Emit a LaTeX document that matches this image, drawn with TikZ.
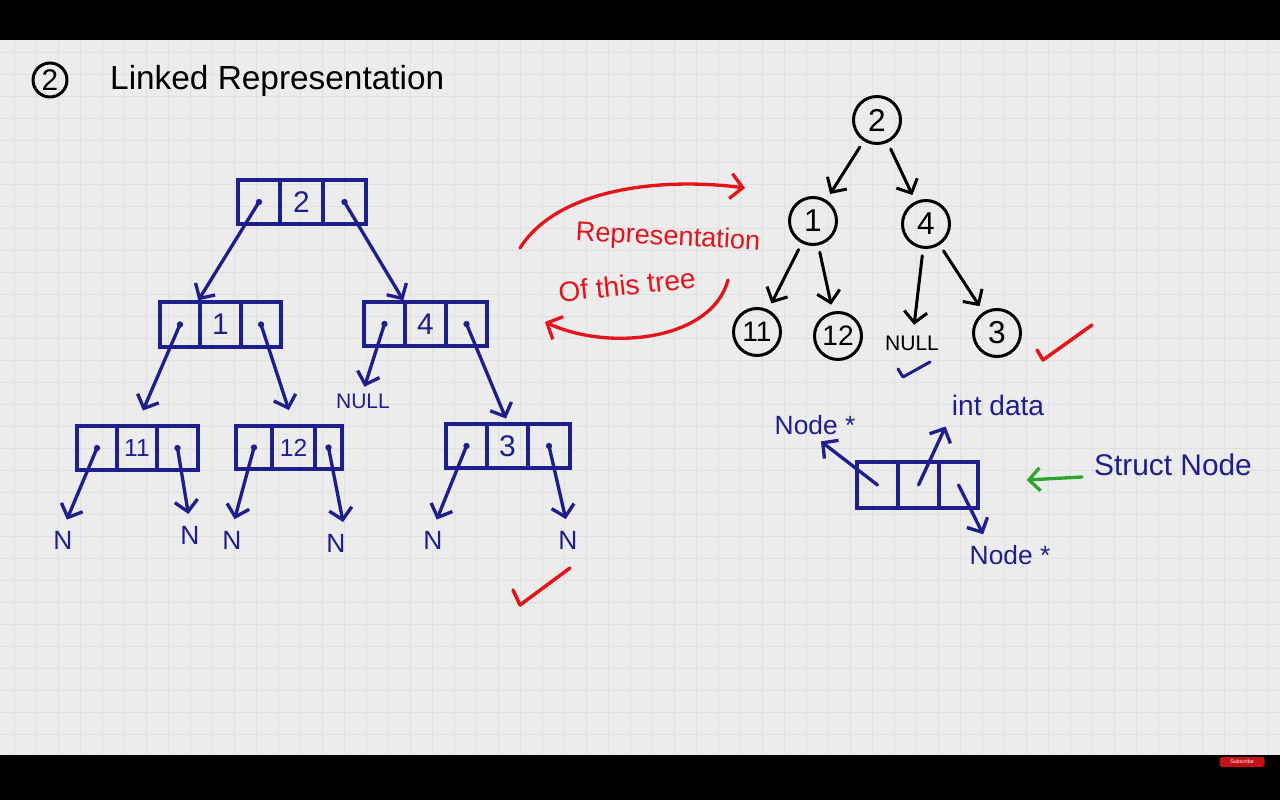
\documentclass[tikz,border=0pt]{standalone}
\usepackage{fontspec}
\setmainfont{Liberation Sans}
\usetikzlibrary{arrows.meta}
\definecolor{tblue}{HTML}{1E1E8C}
\definecolor{tred}{HTML}{E4141B}
\definecolor{tgreen}{HTML}{2DA52D}
\definecolor{bgc}{HTML}{ECECEC}
\definecolor{gridc}{HTML}{E0E0E0}
\tikzset{
  cell/.style={draw=tblue, line width=1.9pt, inner sep=0pt, text=tblue,
    font=\fontsize{17}{17}\selectfont},
  barrow/.style={draw=tblue, line width=1.9pt, line cap=round, line join=round,
    -{Straight Barb[length=2.2mm,width=4.6mm]}},
  karrow/.style={draw=black, line width=1.7pt, line cap=round, line join=round,
    -{Straight Barb[length=2.2mm,width=4.6mm]}},
  rarrow/.style={draw=tred, line width=1.9pt, line cap=round, line join=round,
    -{Straight Barb[length=2.4mm,width=5mm]}},
  garrow/.style={draw=tgreen, line width=1.9pt, line cap=round, line join=round,
    -{Straight Barb[length=2.2mm,width=4.6mm]}},
  circ/.style={draw=black, circle, line width=1.7pt, inner sep=0pt,
    minimum size=0.94cm, font=\fontsize{18}{18}\selectfont},
  nlab/.style={text=tblue, inner sep=1pt, font=\fontsize{15}{15}\selectfont},
  blab/.style={text=tblue, inner sep=1pt, font=\fontsize{15}{15}\selectfont},
  rlab/.style={text=tred, inner sep=1pt, font=\fontsize{15}{15}\selectfont},
  check/.style={line width=2pt, line cap=round, line join=round},
  small/.style={font=\fontsize{14}{14}\selectfont},
}
% name, xleft, xsplit1, xsplit2, xright, ytop, ybottom, label
\newcommand\tribox[8]{%
  \node[cell, minimum width={(#3-#2)*0.02cm}, minimum height={(#7-#6)*0.02cm}]
    (#1l) at ({(#2+#3)/2},{(#6+#7)/2}) {};
  \node[cell, minimum width={(#4-#3)*0.02cm}, minimum height={(#7-#6)*0.02cm}]
    (#1m) at ({(#3+#4)/2},{(#6+#7)/2}) {#8};
  \node[cell, minimum width={(#5-#4)*0.02cm}, minimum height={(#7-#6)*0.02cm}]
    (#1r) at ({(#4+#5)/2},{(#6+#7)/2}) {};
}
\newcommand\ptrdots[1]{%
  \fill[tblue] (#1l.center) circle (1.8pt);
  \fill[tblue] (#1r.center) circle (1.8pt);
}
\begin{document}
\begin{tikzpicture}[x=0.02cm,y=-0.02cm]
\useasboundingbox (0,0) rectangle (1280,800);
% background and grid
\fill[bgc] (0,40) rectangle (1280,755);
\foreach \gx in {14,36,...,1280} \draw[gridc, line width=0.5pt] (\gx,40) -- (\gx,755);
\foreach \gy in {52,74,...,755} \draw[gridc, line width=0.5pt] (0,\gy) -- (1280,\gy);
\fill[black] (0,0) rectangle (1280,40);
\fill[black] (0,755) rectangle (1280,800);
% subscribe button
\node[fill=tred!85!black, rounded corners=1pt, inner sep=1pt, text=white,
  font=\fontsize{3}{3}\selectfont, minimum width=0.9cm, minimum height=0.2cm]
  (sub) at (1242,762) {Subscribe};

% title
\node[circ, minimum size=0.68cm, font=\fontsize{17}{17}\selectfont] (tnum) at (50,80) {2};
\node[anchor=west, font=\fontsize{19}{22}\selectfont] (title) at (104,81) {Linked Representation};

% left linked tree
\tribox{rt}{238}{280}{323}{366}{180}{224}{2}
\tribox{na}{160}{200}{241}{281}{302}{347}{1}
\tribox{nb}{364}{405}{446}{487}{302}{346}{4}
\tribox{nc}{77}{117}{157}{198}{426}{470}{\fontsize{14}{14}\selectfont 11}
\tribox{nd}{236}{272}{315}{342}{426}{469}{\fontsize{14}{14}\selectfont 12}
\tribox{ne}{446}{487}{528}{570}{424}{468}{3}
\ptrdots{rt}\ptrdots{na}\ptrdots{nb}\ptrdots{nc}\ptrdots{nd}\ptrdots{ne}

\node[nlab, font=\fontsize{12}{12}\selectfont] (nullb) at (363,401) {NULL};
\node[nlab] (kcl) at (63,540) {N};
\node[nlab] (kcr) at (190,535) {N};
\node[nlab] (kdl) at (232,540) {N};
\node[nlab] (kdr) at (336,543) {N};
\node[nlab] (kel) at (433,540) {N};
\node[nlab] (ker) at (568,540) {N};

\draw[barrow] (rtl.center) -- (nam.north west);
\draw[barrow] (rtr.center) -- (nbm.north west);
\draw[barrow, shorten >=0.3cm] (nal.center) -- (ncm.north);
\draw[barrow, shorten >=0.3cm] (nar.center) -- (ndm.north);
\draw[barrow, shorten >=0.1cm] (nbl.center) -- (nullb.north);
\draw[barrow, shorten >=0.08cm] (nbr.center) -- (nem.north);
\draw[barrow, shorten >=0.2cm] (ncl.center) -- (kcl.north);
\draw[barrow, shorten >=0.2cm] (ncr.center) -- (kcr.north);
\draw[barrow, shorten >=0.2cm] (ndl.center) -- (kdl.north);
\draw[barrow, shorten >=0.2cm] (ndr.center) -- ([xshift=0.18cm]kdr.north);
\draw[barrow, shorten >=0.2cm] (nel.center) -- (kel.north);
\draw[barrow, shorten >=0.2cm] (ner.center) -- (ker.north);

% red check left
\draw[tred, check] (513,590) -- (520,605) -- (570,568);

% red annotation
\node[rlab, rotate=-3, font=\fontsize{15.5}{16}\selectfont] (rep1) at (668,238) {Representation};
\node[rlab, rotate=6, font=\fontsize{16}{16}\selectfont] (rep2) at (627,285) {Of this tree};
\coordinate (ua) at (520,248);
\coordinate (ub) at (745,188);
\coordinate (la) at (728,280);
\coordinate (lb) at (545,322);
\draw[rarrow] (ua) .. controls (560,185) and (670,178) .. (ub);
\draw[rarrow] (la) .. controls (712,340) and (610,352) .. (lb);

% right tree
\node[circ] (c2) at (877,120) {2};
\node[circ] (c1) at (813,221) {1};
\node[circ] (c4) at (926,224) {4};
\node[circ, font=\fontsize{16}{16}\selectfont] (c11) at (757,332) {11};
\node[circ, font=\fontsize{16}{16}\selectfont] (c12) at (838,336) {12};
\node[circ] (c3) at (997,333) {3};
\node[inner sep=1pt, font=\fontsize{12}{12}\selectfont] (nullr) at (912,343) {NULL};
\draw[karrow, shorten <=4pt, shorten >=4pt] (c2) -- (c1);
\draw[karrow, shorten <=4pt, shorten >=4pt] (c2) -- (c4);
\draw[karrow, shorten <=4pt, shorten >=4pt] (c1) -- (c11);
\draw[karrow, shorten <=4pt, shorten >=4pt] (c1) -- (c12);
\draw[karrow, shorten <=4pt, shorten >=5pt] (c4) -- (nullr);
\draw[karrow, shorten <=4pt, shorten >=4pt] (c4) -- (c3);
\draw[tblue, check, line width=1.7pt] (898,369) -- (903,377) -- (930,362);
\draw[tred, check] (1037,350) -- (1043,360) -- (1092,325);

% struct node
\tribox{sn}{857}{898}{939}{978}{462}{508}{}
\node[blab] (lbla) at (815,425) {Node *};
\node[blab, font=\fontsize{16}{16}\selectfont] (lblb) at (998,405) {int data};
\node[blab] (lblc) at (1010,555) {Node *};
\node[blab, font=\fontsize{17}{17}\selectfont] (lbls) at (1173,465) {Struct Node};
\draw[barrow, shorten >=0.15cm] (snl.center) -- (lbla.south);
\draw[barrow, shorten >=0.2cm] (snm.center) -- (lblb.south west);
\draw[barrow, shorten >=0.2cm] (snr.center) -- ([xshift=0.4cm]lblc.north west);
\draw[garrow] ([shift={(-10,12)}]lbls.west) -- ([shift={(47,-5)}]snr.east);
\end{tikzpicture}
\end{document}
